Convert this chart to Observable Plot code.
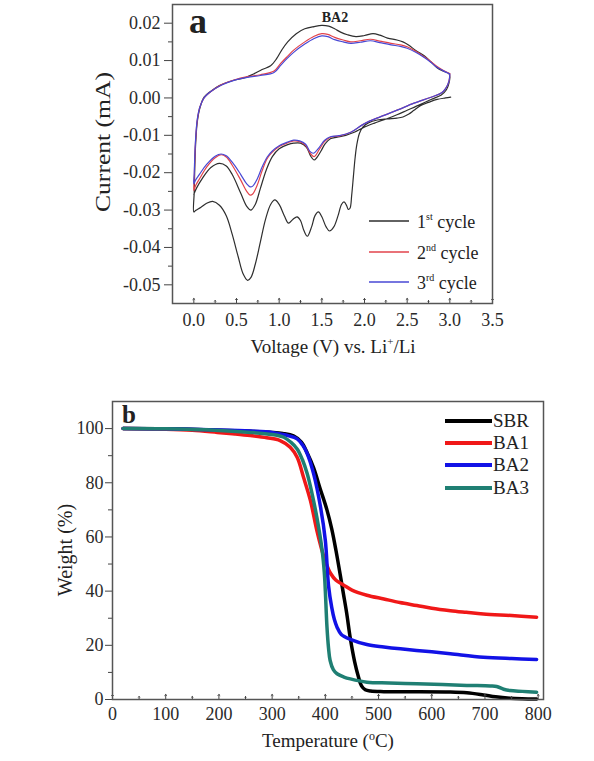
<!DOCTYPE html>
<html><head><meta charset="utf-8">
<script src="https://cdn.jsdelivr.net/npm/d3@7"></script>
<script src="https://cdn.jsdelivr.net/npm/@observablehq/plot@0.6"></script>
<style>
body{margin:0;background:#fff;}
#wrap{position:relative;width:594px;height:761px;overflow:hidden;background:#fff;}
#wrap svg{position:absolute;left:0;}
</style></head><body><div id="wrap"></div>
<script>
// ---------- Panel a: cyclic voltammetry of BA2 ----------
const cycle1 = [[3.01,0.0002],[2.95,0.0000],[2.85,-0.0004],[2.75,-0.0012],[2.66,-0.0020],[2.58,-0.0033],[2.52,-0.0043],[2.45,-0.0051],[2.38,-0.0054],[2.27,-0.0056],[2.15,-0.0059],[2.05,-0.0066],[1.98,-0.0078],[1.94,-0.0095],[1.91,-0.0125],[1.89,-0.0160],[1.87,-0.0210],[1.85,-0.0260],[1.83,-0.0295],[1.81,-0.0298],[1.79,-0.0288],[1.76,-0.0278],[1.73,-0.0285],[1.69,-0.0315],[1.64,-0.0345],[1.59,-0.0356],[1.55,-0.0345],[1.50,-0.0318],[1.46,-0.0305],[1.42,-0.0315],[1.38,-0.0345],[1.33,-0.0370],[1.29,-0.0355],[1.25,-0.0328],[1.21,-0.0318],[1.16,-0.0325],[1.11,-0.0335],[1.06,-0.0315],[1.00,-0.0285],[0.95,-0.0273],[0.90,-0.0285],[0.84,-0.0325],[0.78,-0.0385],[0.72,-0.0445],[0.67,-0.0480],[0.63,-0.0488],[0.58,-0.0472],[0.52,-0.0425],[0.45,-0.0365],[0.38,-0.0315],[0.30,-0.0287],[0.22,-0.0277],[0.15,-0.0282],[0.08,-0.0293],[0.02,-0.0301],[0.00,-0.0305],[0.005,-0.0250],[0.012,-0.0180],[0.022,-0.0120],[0.04,-0.0065],[0.07,-0.0028],[0.12,0.0002],[0.20,0.0018],[0.30,0.0033],[0.45,0.0046],[0.60,0.0054],[0.70,0.0064],[0.80,0.0076],[0.90,0.0086],[0.97,0.0105],[1.03,0.0128],[1.10,0.0150],[1.20,0.0172],[1.30,0.0185],[1.41,0.0191],[1.50,0.0194],[1.58,0.0192],[1.65,0.0185],[1.72,0.0176],[1.80,0.0169],[1.90,0.0164],[2.00,0.0167],[2.10,0.0172],[2.18,0.0168],[2.27,0.0160],[2.38,0.0155],[2.45,0.0150],[2.52,0.0141],[2.60,0.0127],[2.70,0.0113],[2.78,0.0096],[2.85,0.0081],[2.92,0.0072],[2.99,0.0065],[3.00,0.0055],[2.99,0.0040],[2.96,0.0022],[2.90,0.0008],[2.78,-0.0004],[2.65,-0.0018],[2.50,-0.0033],[2.38,-0.0045],[2.27,-0.0055],[2.11,-0.0068],[1.98,-0.0080],[1.88,-0.0092],[1.78,-0.0100],[1.68,-0.0105],[1.60,-0.0109],[1.54,-0.0122],[1.49,-0.0142],[1.44,-0.0160],[1.41,-0.0166],[1.37,-0.0156],[1.32,-0.0132],[1.25,-0.0121],[1.17,-0.0121],[1.10,-0.0125],[1.00,-0.0136],[0.92,-0.0157],[0.85,-0.0192],[0.78,-0.0242],[0.72,-0.0285],[0.67,-0.0300],[0.62,-0.0290],[0.55,-0.0255],[0.45,-0.0205],[0.38,-0.0182],[0.30,-0.0175],[0.20,-0.0186],[0.10,-0.0215],[0.03,-0.0242],[0.00,-0.0258]];
const cycle2 = [[3.00,0.0066],[2.99,0.0045],[2.95,0.0025],[2.90,0.0013],[2.78,0.0002],[2.58,-0.0014],[2.39,-0.0032],[2.19,-0.0050],[1.99,-0.0070],[1.84,-0.0092],[1.70,-0.0102],[1.60,-0.0105],[1.53,-0.0117],[1.47,-0.0138],[1.41,-0.0157],[1.37,-0.0150],[1.31,-0.0127],[1.24,-0.0117],[1.17,-0.0115],[1.10,-0.0120],[1.00,-0.0130],[0.92,-0.0145],[0.86,-0.0162],[0.80,-0.0195],[0.74,-0.0235],[0.69,-0.0257],[0.66,-0.0260],[0.62,-0.0250],[0.55,-0.0220],[0.45,-0.0180],[0.38,-0.0158],[0.32,-0.0152],[0.25,-0.0160],[0.15,-0.0185],[0.07,-0.0215],[0.02,-0.0235],[0.00,-0.0248],[0.005,-0.0215],[0.012,-0.0160],[0.022,-0.0110],[0.04,-0.0060],[0.07,-0.0025],[0.12,0.0000],[0.20,0.0017],[0.32,0.0035],[0.47,0.0048],[0.63,0.0057],[0.78,0.0062],[0.94,0.0072],[1.02,0.0093],[1.10,0.0112],[1.17,0.0128],[1.30,0.0150],[1.41,0.0165],[1.50,0.0172],[1.57,0.0170],[1.65,0.0162],[1.75,0.0155],[1.84,0.0150],[1.95,0.0153],[2.07,0.0157],[2.18,0.0152],[2.31,0.0146],[2.42,0.0142],[2.50,0.0137],[2.60,0.0125],[2.70,0.0110],[2.78,0.0097],[2.85,0.0084],[2.92,0.0074],[2.99,0.0066]];
const cycle3 = [[3.00,0.0064],[2.99,0.0045],[2.95,0.0025],[2.90,0.0013],[2.78,0.0002],[2.58,-0.0014],[2.39,-0.0032],[2.19,-0.0050],[1.99,-0.0070],[1.84,-0.0092],[1.70,-0.0101],[1.60,-0.0104],[1.53,-0.0114],[1.47,-0.0132],[1.40,-0.0148],[1.36,-0.0143],[1.31,-0.0124],[1.24,-0.0115],[1.17,-0.0113],[1.10,-0.0118],[1.00,-0.0128],[0.92,-0.0142],[0.86,-0.0158],[0.80,-0.0185],[0.74,-0.0218],[0.69,-0.0236],[0.66,-0.0238],[0.62,-0.0230],[0.55,-0.0205],[0.45,-0.0172],[0.38,-0.0155],[0.32,-0.0150],[0.25,-0.0156],[0.15,-0.0178],[0.07,-0.0203],[0.02,-0.0220],[0.00,-0.0230],[0.005,-0.0200],[0.012,-0.0150],[0.022,-0.0105],[0.04,-0.0058],[0.07,-0.0025],[0.12,0.0000],[0.20,0.0017],[0.32,0.0034],[0.47,0.0047],[0.63,0.0055],[0.78,0.0060],[0.94,0.0068],[1.02,0.0088],[1.10,0.0107],[1.17,0.0122],[1.30,0.0144],[1.41,0.0159],[1.50,0.0166],[1.57,0.0164],[1.65,0.0156],[1.75,0.0150],[1.84,0.0146],[1.95,0.0149],[2.07,0.0153],[2.18,0.0148],[2.31,0.0142],[2.42,0.0138],[2.50,0.0133],[2.60,0.0122],[2.70,0.0108],[2.78,0.0095],[2.85,0.0082],[2.92,0.0073],[3.00,0.0064]];
const voltTicks = [0, 0.5, 1.0, 1.5, 2.0, 2.5, 3.0, 3.5];
const voltMinor = [0.25, 0.75, 1.25, 1.75, 2.25, 2.75, 3.25];
const currentTicks = [-0.05, -0.04, -0.03, -0.02, -0.01, 0, 0.01, 0.02];
const currentMinor = [-0.045, -0.035, -0.025, -0.015, -0.005, 0.005, 0.015];
const cycleNums = ["1", "2", "3"];
const cycleSups = ["st", "nd", "rd"];

// ---------- Panel b: TGA ----------
const tgaSBR = [[20,100],[100,99.9],[200,99.4],[260,99.0],[300,98.6],[320,98.2],[340,97.3],[355,95],[366,91],[378,85.5],[390,78],[403,70],[412,63],[420,55],[428,46],[434,39],[440,32],[447,22.5],[455,14],[462,8.5],[468,5],[475,3.6],[485,3.1],[510,2.9],[560,2.9],[635,2.8],[666,2.5],[697,1.7],[720,1.0],[747,0.5],[770,0.3],[797,0.2]];
const tgaBA1 = [[20,100],[100,99.8],[150,99.4],[197,98.6],[230,98.0],[259,97.4],[290,96.6],[315,95.6],[334,93.1],[347,89.4],[359,82],[372,73.4],[384,62.4],[393,55.5],[402,50],[410,46.5],[420,44],[434,42.3],[450,40.4],[478,38.5],[510,37.1],[540,35.8],[572,34.7],[600,33.7],[635,32.8],[665,32.2],[697,31.6],[750,31.0],[797,30.4]];
const tgaBA2 = [[20,100],[100,99.9],[200,99.5],[260,99.1],[300,98.6],[315,98.0],[330,97.4],[347,96.2],[357,94],[366,90.7],[378,83.3],[391,71],[400,58.7],[406,42],[412,34],[417,29.5],[422,26.7],[430,24],[447,22.2],[478,20.3],[510,19.4],[541,18.7],[600,17.6],[635,16.9],[697,15.6],[750,15.1],[797,14.8]];
const tgaBA3 = [[20,100],[100,99.9],[200,99.3],[260,98.6],[300,97.8],[322,96.8],[335,95],[347,92.5],[357,88.5],[366,83.3],[375,76],[384,67.3],[394,55],[398,47],[400,40],[403,27],[406,19],[409,14.4],[415,11],[422,9.5],[435,8.3],[447,7.6],[478,6.4],[520,6.1],[572,5.8],[620,5.5],[666,5.2],[710,5.0],[722,4.8],[735,3.8],[747,3.3],[770,3.0],[797,2.7]];
const tempTicks = [0, 100, 200, 300, 400, 500, 600, 700, 800];
const tempMinor = [50, 150, 250, 350, 450, 550, 650, 750];
const weightTicks = [0, 20, 40, 60, 80, 100];
const weightMinor = [10, 30, 50, 70, 90];
const sampleNames = ["SBR", "BA1", "BA2", "BA3"];
const sampleColors = ["#000000", "#f01818", "#1212e6", "#1f7f73"];

// ---------- drawing ----------
const F = "'Liberation Serif','Times New Roman',serif";
const X = d => d[0], Y = d => d[1];
const wrap = document.getElementById("wrap");

const plotA = Plot.plot({
  width: 594, height: 370,
  marginLeft: 172, marginRight: 102, marginTop: 4, marginBottom: 67,
  x: {domain: [-0.25, 3.5]},
  y: {domain: [-0.055, 0.025]},
  style: {fontFamily: F, fontSize: "18px", color: "#2a2a2a", background: "transparent"},
  marks: [
    Plot.line(cycle1, {x: X, y: Y, stroke: "#2e2e2e", strokeWidth: 1.2, curve: "catmull-rom"}),
    Plot.line(cycle2, {x: X, y: Y, stroke: "#e2434b", strokeWidth: 1.2, curve: "catmull-rom"}),
    Plot.line(cycle3, {x: X, y: Y, stroke: "#4848d4", strokeWidth: 1.2, curve: "catmull-rom"}),
    Plot.vector(voltTicks, {x: d => d, frameAnchor: "bottom", length: 5, anchor: "start", stroke: "#444", strokeWidth: 1}),
    Plot.vector(voltMinor, {x: d => d, frameAnchor: "bottom", length: 3, anchor: "start", stroke: "#444", strokeWidth: 1}),
    Plot.axisX({ticks: voltTicks, tickSize: 0, tickPadding: 10, tickFormat: d => d.toFixed(1), label: null}),
    Plot.axisY({ticks: currentTicks, tickSize: 8, tickPadding: 4, tickFormat: d => d.toFixed(2), label: null, stroke: "#444"}),
    Plot.axisY({ticks: currentMinor, tickSize: 4, tickFormat: () => "", label: null, stroke: "#444"}),
    Plot.frame({stroke: "#555", strokeWidth: 1.5})
  ]
});
plotA.style.top = "0px";
wrap.appendChild(plotA);

const series = [tgaSBR, tgaBA1, tgaBA2, tgaBA3];
const plotB = Plot.plot({
  width: 594, height: 381,
  marginLeft: 112, marginRight: 51, marginTop: 21, marginBottom: 62,
  x: {domain: [0, 810]},
  y: {domain: [0, 110]},
  style: {fontFamily: F, fontSize: "18px", color: "#2a2a2a", background: "transparent"},
  marks: [
    ...series.map((s, i) => Plot.line(s, {x: X, y: Y, stroke: sampleColors[i], strokeWidth: 3.5, curve: "catmull-rom"})),
    Plot.vector(tempTicks, {x: d => d, frameAnchor: "bottom", length: 5, anchor: "start", stroke: "#444", strokeWidth: 1}),
    Plot.vector(tempMinor, {x: d => d, frameAnchor: "bottom", length: 3, anchor: "start", stroke: "#444", strokeWidth: 1}),
    Plot.axisX({ticks: tempTicks, tickSize: 0, tickPadding: 8, tickFormat: d => String(d), label: null}),
    Plot.axisY({ticks: weightTicks, tickSize: 7, tickPadding: 2, tickFormat: d => String(d), label: null, stroke: "#444"}),
    Plot.axisY({ticks: weightMinor, tickSize: 4, tickFormat: () => "", label: null, stroke: "#444"}),
    Plot.frame({stroke: "#555", strokeWidth: 1.5})
  ]
});
plotB.style.top = "380px";
wrap.appendChild(plotB);

// ---------- annotations (titles, labels, legends) ----------
const ov = d3.select(wrap).append("svg")
  .attr("width", 594).attr("height", 761)
  .style("top", "0px").style("pointer-events", "none")
  .attr("font-family", F).attr("fill", "#222");

ov.append("text").attr("x", 189).attr("y", 33).attr("font-size", 36).attr("font-weight", "bold").text("a");
ov.append("text").attr("x", 335).attr("y", 22).attr("font-size", 14).attr("font-weight", "bold").attr("text-anchor", "middle").text("BA2");

const vt = ov.append("text").attr("x", 333).attr("y", 353).attr("font-size", 19).attr("text-anchor", "middle");
vt.append("tspan").text("Voltage (V) vs. Li");
vt.append("tspan").attr("font-size", 11).attr("dy", -8).text("+");
vt.append("tspan").attr("dy", 8).text("/Li");

ov.append("text").attr("transform", "translate(110,142) rotate(-90)").attr("font-size", 21)
  .attr("text-anchor", "middle").attr("textLength", 140).attr("lengthAdjust", "spacingAndGlyphs").text("Current (mA)");

const cycleColors = ["#2e2e2e", "#e2434b", "#4848d4"];
const legY = [221, 252, 282];
cycleNums.forEach((n, i) => {
  ov.append("line").attr("x1", 369).attr("x2", 409).attr("y1", legY[i]).attr("y2", legY[i])
    .attr("stroke", cycleColors[i]).attr("stroke-width", 1.3);
  const t = ov.append("text").attr("x", 417).attr("y", legY[i] + 7).attr("font-size", 18);
  t.append("tspan").text(n);
  t.append("tspan").attr("font-size", 10).attr("dy", -8).text(cycleSups[i]);
  t.append("tspan").attr("dy", 8).text(" cycle");
});

ov.append("text").attr("x", 122).attr("y", 423).attr("font-size", 25).attr("font-weight", "bold").text("b");
ov.append("text").attr("transform", "translate(72,550) rotate(-90)").attr("font-size", 20)
  .attr("text-anchor", "middle").text("Weight (%)");
const tt = ov.append("text").attr("x", 328).attr("y", 747).attr("font-size", 19).attr("text-anchor", "middle");
tt.append("tspan").text("Temperature (");
tt.append("tspan").attr("font-size", 12).attr("dy", -7).text("o");
tt.append("tspan").attr("dy", 7).text("C)");

const legBY = [421, 443, 465, 488];
sampleNames.forEach((n, i) => {
  ov.append("line").attr("x1", 445).attr("x2", 492).attr("y1", legBY[i]).attr("y2", legBY[i])
    .attr("stroke", sampleColors[i]).attr("stroke-width", 4);
  ov.append("text").attr("x", 493).attr("y", legBY[i] + 6).attr("font-size", 19).text(n);
});
</script></body></html>
